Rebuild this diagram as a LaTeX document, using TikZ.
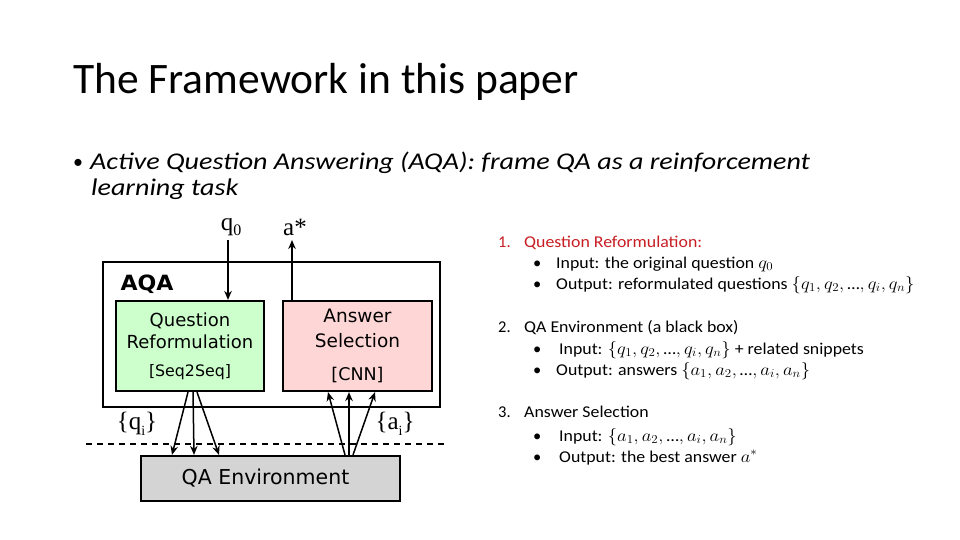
\documentclass[tikz,border=0pt]{standalone}
\usepackage{graphicx}
\usepackage{fontspec}
\setmainfont{Carlito}
\newfontfamily\dv{DejaVu Sans}
\newfontfamily\tms{Liberation Serif}
\usetikzlibrary{arrows.meta}
\definecolor{qgreen}{RGB}{204,255,204}
\definecolor{apink}{RGB}{255,214,214}
\definecolor{envgray}{RGB}{212,212,212}
\definecolor{listred}{RGB}{200,30,35}
\newcommand{\hstretch}[2]{\scalebox{#1}[1]{#2}}
\newcommand{\dts}{\mbox{…}}
\tikzset{
  box/.style={draw=black, line width=2.2pt, inner sep=0pt, align=center},
  flow/.style={line width=1.5pt, -{Stealth[length=9pt,width=7.5pt]}},
  lbl/.style={inner sep=0pt, font=\tms\fontsize{25}{25}\selectfont},
  txt/.style={anchor=base west, inner sep=0pt},
  listtxt/.style={txt, font=\fontsize{16.5}{18}\selectfont},
}
\begin{document}
\begin{tikzpicture}[x=1pt,y=-1pt]
\useasboundingbox[fill=white] (0,0) rectangle (960,540);
% title and bullet
\node[txt, font=\fontsize{43.5}{50}\selectfont] (title) at (73,94) {The Framework in this paper};
\node[txt, font=\fontsize{20}{28}\selectfont] (bul) at (73,168) {•};
\node[txt, font=\fontsize{24}{28}\selectfont\itshape] (b1) at (90,170) {\hstretch{1.17}{Active Question Answering (AQA): frame QA as a reinforcement}};
\node[txt, font=\fontsize{24}{28}\selectfont\itshape] (b2) at (91,195) {\hstretch{1.17}{learning task}};
% diagram
\node[draw=black, line width=2.2pt, minimum width=337pt, minimum height=145pt, inner sep=0pt] (aqa) at (271.5,334.5) {};
\node[inner sep=0pt, font=\dv\bfseries\fontsize{21}{21}\selectfont] (aqalbl) at (147,284) {\hstretch{1.05}{AQA}};
\node[box, fill=qgreen, minimum width=148pt, minimum height=90pt, font=\dv\fontsize{18}{22}\selectfont] (qr) at (190,346)
  {Question\\Reformulation\\[6pt]{\fontsize{15.8}{18}\selectfont [Seq2Seq]}};
\node[box, fill=apink, minimum width=149pt, minimum height=90pt, font=\dv\fontsize{18.5}{25}\selectfont] (as) at (357.5,346)
  {Answer\\Selection\\[8pt]{\fontsize{17.5}{18}\selectfont [CNN]}};
\node[box, fill=envgray, minimum width=259pt, minimum height=45pt, font=\dv\fontsize{20.5}{22}\selectfont] (env) at (270.5,478.5) {\hspace*{-10pt}QA Environment};
\node[lbl] (q0) at (231,227) {q\raisebox{-5pt}{\fontsize{16}{16}\selectfont 0}};
\node[lbl] (astar) at (295,227) {a*};
\node[lbl] (qi) at (137,424) {\{q\raisebox{-6pt}{\fontsize{14}{14}\selectfont i}\}};
\node[lbl] (ai) at (395,424) {\{a\raisebox{-6pt}{\fontsize{14}{14}\selectfont i}\}};
\coordinate (dl) at (86,444);
\coordinate (dr) at (447,444);
\draw[line width=1.4pt, dash pattern=on 6pt off 5pt] (dl) -- (dr);
\draw[flow] ([xshift=-3pt]q0.south |- 0,240) -- ([xshift=38pt]qr.north);
\draw[flow, line width=2pt] ([xshift=-65.5pt]as.north) -- ([xshift=-65.5pt]as.north |- 0,240);
\draw[flow] ([xshift=-2pt]qr.south) -- ([xshift=-98.5pt]env.north);
\draw[flow] ([xshift=3pt]qr.south) -- ([xshift=-76.5pt]env.north);
\draw[flow] ([xshift=7pt]qr.south) -- ([xshift=-51.5pt]env.north);
\draw[flow] ([xshift=74.5pt]env.north) -- ([xshift=-29.5pt]as.south);
\draw[flow] ([xshift=78.5pt]env.north) -- ([xshift=-8.5pt]as.south);
\draw[flow] ([xshift=82.5pt]env.north) -- ([xshift=17.5pt]as.south);
% list
\node[listtxt, text=listred] (n1) at (498,247) {1.};
\node[listtxt, text=listred] (t1) at (524,247) {\hstretch{1.08}{Question Reformulation:}};
\node[listtxt] (p11) at (533,268) {•};
\node[listtxt] (t11) at (556,268) {\hstretch{1.08}{Input: the original question $q_0$}};
\node[listtxt] (p12) at (533,289) {•};
\node[listtxt] (t12) at (556,289) {\hstretch{1.08}{Output: reformulated questions $\{q_1,q_2,\dts,q_i,q_n\}$}};
\node[listtxt] (n2) at (498,332) {2.};
\node[listtxt] (t2) at (524,332) {\hstretch{1.08}{QA Environment (a black box)}};
\node[listtxt] (p21) at (533,354) {•};
\node[listtxt] (t21) at (559,354) {\hstretch{1.08}{Input: $\{q_1,q_2,\dts,q_i,q_n\}$ + related snippets}};
\node[listtxt] (p22) at (533,375) {•};
\node[listtxt] (t22) at (556,375) {\hstretch{1.08}{Output: answers $\{a_1,a_2,\dts,a_i,a_n\}$}};
\node[listtxt] (n3) at (498,417) {3.};
\node[listtxt] (t3) at (524,417) {\hstretch{1.08}{Answer Selection}};
\node[listtxt] (p31) at (533,441) {•};
\node[listtxt] (t31) at (559,441) {\hstretch{1.08}{Input: $\{a_1,a_2,\dts,a_i,a_n\}$}};
\node[listtxt] (p32) at (533,462) {•};
\node[listtxt] (t32) at (559,462) {\hstretch{1.08}{Output: the best answer $a^*$}};
\end{tikzpicture}
\end{document}
